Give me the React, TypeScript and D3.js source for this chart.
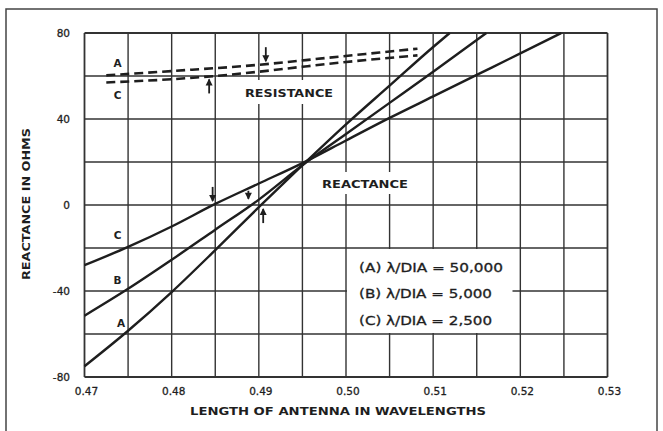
import React, { useEffect, useRef } from 'react';
import * as d3 from 'd3';

// axis ticks
const xTicks = [0.47, 0.48, 0.49, 0.5, 0.51, 0.52, 0.53];
const xTickLabels = ['0.47', '0.48', '0.49', '0.50', '0.51', '0.52', '0.53'];
const yTicks = [80, 40, 0, -40, -80];
const yTickLabels = ['80', '40', '0', '-40', '-80'];

// reactance curves (solid)
const reactAx = [0.47, 0.475, 0.48, 0.485, 0.49, 0.495, 0.5, 0.505, 0.51, 0.5119];
const reactAy = [-75, -58.5, -40.5, -21, -1, 18.5, 37.5, 55.5, 73.5, 80];
const reactBx = [0.47, 0.475, 0.48, 0.485, 0.49, 0.495, 0.5, 0.505, 0.51, 0.5161];
const reactBy = [-51.5, -39, -25.5, -11.5, 2.5, 18.5, 33, 47.5, 62, 80];
const reactCx = [0.47, 0.475, 0.48, 0.485, 0.49, 0.495, 0.5, 0.505, 0.51, 0.515, 0.52, 0.5247];
const reactCy = [-28, -19.5, -10, 0.5, 10, 19.5, 30, 40.5, 50.5, 60.5, 70.5, 80];

// resistance curves (dashed)
const resAx = [0.4725, 0.48, 0.49, 0.498, 0.5082];
const resAy = [60.3, 62.3, 65.2, 68.5, 72.7];
const resCx = [0.4725, 0.48, 0.485, 0.49, 0.495, 0.5, 0.5082];
const resCy = [57, 58.5, 60, 62, 64.3, 66.5, 69.6];

// resonance markers: x, value on curve, direction (1 = from above)
const markX = [0.4908, 0.4843, 0.4847, 0.4888, 0.4905];
const markY = [65.5, 59.8, 0.5, 1.5, -0.5];
const markDir = [1, -1, 1, 1, -1];

const legendLines = ['(A) \u03bb/DIA = 50,000', '(B) \u03bb/DIA = 5,000', '(C) \u03bb/DIA = 2,500'];

const ink = '#1e1e1e';
const font = 'DejaVu Sans, sans-serif';

export default function App() {
  const ref = useRef<SVGSVGElement | null>(null);

  useEffect(() => {
    const svg = d3.select(ref.current);
    svg.selectAll('*').remove();

    const x = d3.scaleLinear().domain([0.47, 0.53]).range([84.5, 607.5]);
    const y = d3.scaleLinear().domain([-80, 80]).range([377, 33]);

    svg.append('rect').attr('width', 663).attr('height', 431).attr('fill', '#fff');
    // outer frame of the scan
    svg
      .append('rect')
      .attr('x', 6)
      .attr('y', 9)
      .attr('width', 651)
      .attr('height', 440)
      .attr('fill', 'none')
      .attr('stroke', '#444')
      .attr('stroke-width', 1.5);

    // grid
    const g = svg.append('g');
    d3.range(0, 13).forEach((i) => {
      const v = 0.47 + i * 0.005;
      g.append('line')
        .attr('x1', x(v)).attr('x2', x(v))
        .attr('y1', y(80)).attr('y2', y(-80))
        .attr('stroke', '#333')
        .attr('stroke-width', i === 0 || i === 12 ? 1.8 : 1.4);
    });
    d3.range(-80, 81, 20).forEach((v) => {
      g.append('line')
        .attr('x1', x(0.47)).attr('x2', x(0.53))
        .attr('y1', y(v)).attr('y2', y(v))
        .attr('stroke', '#333')
        .attr('stroke-width', v === 80 || v === -80 ? 1.8 : 1.4);
    });

    // white boxes behind labels
    svg.append('rect').attr('x', 240).attr('y', 80).attr('width', 98).attr('height', 24).attr('fill', '#fff');
    svg.append('rect').attr('x', 316).attr('y', 172).attr('width', 98).attr('height', 22).attr('fill', '#fff');
    svg
      .append('rect')
      .attr('x', x(0.5) + 1)
      .attr('y', y(-20) + 1)
      .attr('width', x(0.5191) - x(0.5) - 1)
      .attr('height', y(-60) - y(-20) - 2)
      .attr('fill', '#fff');

    const line = d3
      .line<[number, number]>()
      .x((d) => x(d[0]))
      .y((d) => y(d[1]))
      .curve(d3.curveMonotoneX);

    const zip = (xs: number[], ys: number[]) => xs.map((v, i) => [v, ys[i]] as [number, number]);

    [zip(reactAx, reactAy), zip(reactBx, reactBy), zip(reactCx, reactCy)].forEach((pts) => {
      svg.append('path').attr('d', line(pts)).attr('fill', 'none').attr('stroke', ink).attr('stroke-width', 2.4);
    });
    [zip(resAx, resAy), zip(resCx, resCy)].forEach((pts) => {
      svg
        .append('path')
        .attr('d', line(pts))
        .attr('fill', 'none')
        .attr('stroke', ink)
        .attr('stroke-width', 2.6)
        .attr('stroke-dasharray', '9,5');
    });

    // arrows
    markX.forEach((mx, i) => {
      const px = x(mx);
      const py = y(markY[i]);
      const dir = markDir[i];
      const len = i === 3 ? 11 : 17;
      const tail = py - dir * len;
      svg.append('line')
        .attr('x1', px).attr('x2', px)
        .attr('y1', tail).attr('y2', py - dir * 3)
        .attr('stroke', ink).attr('stroke-width', 1.8);
      svg.append('path')
        .attr('d', `M${px - 3.5},${py - dir * 9} L${px + 3.5},${py - dir * 9} L${px},${py - dir * 2} Z`)
        .attr('fill', ink);
    });

    const text = (tx: number, ty: number, s: string, size: number, anchor = 'middle', weight = 'normal', len?: number) => {
      const t = svg
        .append('text')
        .attr('x', tx)
        .attr('y', ty)
        .attr('text-anchor', anchor)
        .attr('font-family', font)
        .attr('font-size', size)
        .attr('font-weight', weight)
        .attr('fill', ink)
        .text(s);
      if (len) t.attr('textLength', len).attr('lengthAdjust', 'spacingAndGlyphs');
      return t;
    };

    // tick labels
    xTicks.forEach((v, i) => text(x(v) + 2, 395, xTickLabels[i], 10.5).attr('stroke', ink).attr('stroke-width', 0.3));
    yTicks.forEach((v, i) => text(70, y(v) + 4, yTickLabels[i], 10.5, 'end').attr('stroke', ink).attr('stroke-width', 0.3));

    // axis titles
    text(338, 415, 'LENGTH OF ANTENNA IN WAVELENGTHS', 11, 'middle', 'bold', 296);
    text(0, 0, 'REACTANCE IN OHMS', 11, 'middle', 'bold', 152).attr('transform', 'translate(30,204) rotate(-90)');

    // curve labels
    text(x(0.4738), y(66) + 4, 'A', 10.5, 'middle', 'bold');
    text(x(0.4738), y(51.2) + 4, 'C', 10.5, 'middle', 'bold');
    text(x(0.4738), y(-14) + 4, 'C', 10.5, 'middle', 'bold');
    text(x(0.4738), y(-35) + 4, 'B', 10.5, 'middle', 'bold');
    text(x(0.4742), y(-55) + 4, 'A', 10.5, 'middle', 'bold');

    text(245, 97, 'RESISTANCE', 11, 'start', 'bold', 88);
    text(322, 188, 'REACTANCE', 11, 'start', 'bold', 86);

    legendLines.forEach((s, i) => {
      text(359, 271.5 + i * 26.7, s, 12, 'start', 'normal', i === 0 ? 144 : 133).attr('stroke', ink).attr('stroke-width', 0.3);
    });
  }, []);

  return (
    <svg
      ref={ref}
      width={663}
      height={431}
      style={{ position: 'absolute', left: 0, top: 0, display: 'block' }}
    />
  );
}
